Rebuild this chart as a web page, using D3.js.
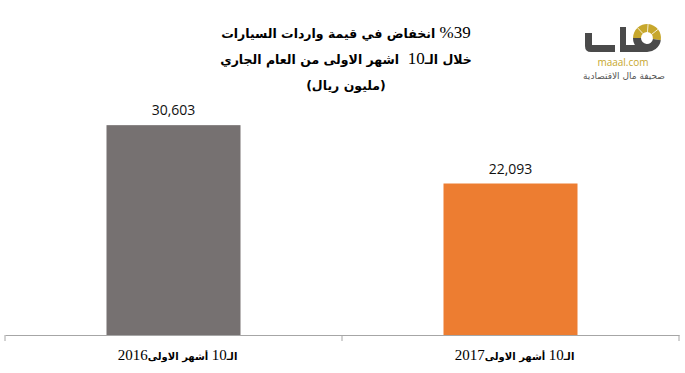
<!DOCTYPE html>
<html>
<head>
<meta charset="utf-8">
<script src="https://cdn.jsdelivr.net/npm/d3@7"></script>
<style>
  body { margin: 0; background: #fff; }
  svg { display: block; }
</style>
</head>
<body>
<svg id="vis" width="685" height="373"></svg>
<script>
// chart data
const categories = ["2016", "2017"];
const values = [30603, 22093];
const barColors = ["#767171", "#ED7D31"];
// title pieces in reading (logical) order
const titleLines = [
    ["%39", " انخفاض في قيمة واردات السيارات"],
    ["خلال الـ", "10", "  اشهر الاولى من العام الجاري"],
    ["(مليون ريال)"]
];
const catParts = ["الـ", "10", " أشهر الاولى", null]; // null -> year

const svg = d3.select('#vis');
const arabicFont = "'DejaVu Sans', sans-serif";
const serifFont = "'Liberation Serif', serif";

const x = d3.scaleBand()
    .domain(categories)
    .range([5, 679]);

const y = d3.scaleLinear()
    .domain([0, 35000])
    .range([335, 95]);

// one right-to-left text line made of arabic and number pieces
function rtlLine(parent, parts, cx, baseline, arSize, numSize) {
    const t = parent.append("text")
        .attr("x", cx)
        .attr("y", baseline)
        .attr("direction", "rtl")
        .attr("text-anchor", "middle")
        .attr("fill", "#000")
        .style("white-space", "pre");
    parts.forEach(function (p) {
        const isNum = /^[%0-9]+$/.test(p);
        const s = t.append("tspan")
            .attr("font-family", isNum ? serifFont : arabicFont)
            .attr("font-weight", isNum ? "normal" : "bold")
            .attr("font-size", isNum ? numSize : arSize)
            .text(p);
        if (p.indexOf("%") >= 0) {
            // percent sign drawn before the digits
            s.attr("direction", "ltr").attr("unicode-bidi", "bidi-override");
        }
    });
    return t;
}

// bars
const barW = 134;
svg.selectAll(".bar")
    .data(values)
    .enter().append("rect")
    .attr("class", "bar")
    .attr("x", function (d, i) { return x(categories[i]) + x.bandwidth() / 2 - barW / 2; })
    .attr("y", function (d) { return y(d); })
    .attr("width", barW)
    .attr("height", function (d) { return y(0) - y(d); })
    .attr("fill", function (d, i) { return barColors[i]; });

// value labels
svg.selectAll(".val")
    .data(values)
    .enter().append("text")
    .attr("class", "val")
    .attr("x", function (d, i) { return x(categories[i]) + x.bandwidth() / 2; })
    .attr("y", function (d) { return y(d) - 10; })
    .attr("text-anchor", "middle")
    .attr("font-family", "'Open Sans', sans-serif")
    .attr("font-size", 14)
    .attr("fill", "#111")
    .text(d3.format(","));

// axis line with ticks
const axis = d3.axisBottom(x).tickSize(0).tickFormat("");
const gx = svg.append("g")
    .attr("transform", "translate(0," + y(0) + ")")
    .call(axis);
gx.select(".domain").attr("stroke", "#a6a6a6");
const edges = [x.range()[0], x(categories[1]), x.range()[1]];
gx.selectAll(".edge")
    .data(edges)
    .enter().append("line")
    .attr("x1", function (d) { return d; })
    .attr("x2", function (d) { return d; })
    .attr("y1", 0)
    .attr("y2", 6)
    .attr("stroke", "#a6a6a6");

// category labels
categories.forEach(function (c) {
    const parts = catParts.map(function (p) { return p === null ? c : p; });
    rtlLine(svg, parts, x(c) + x.bandwidth() / 2 + 4, 360, 10, 15);
});

// title
const titleY = [38, 64, 90];
titleLines.forEach(function (parts, i) {
    rtlLine(svg, parts, 346, titleY[i], 12.5, 17);
});

// logo
const logo = svg.append("g").attr("transform", "translate(585,27)");
const dark = "#4a4a4a";
const gold = "#c7a72c";
logo.append("path")
    .attr("d", "M0,6 H7 V18 H30 V25 H6 Q0,25 0,19 Z")
    .attr("fill", dark);
logo.append("rect")
    .attr("x", 35).attr("y", 0).attr("width", 6).attr("height", 25)
    .attr("fill", dark);
const arc = d3.arc();
const goldStart = -Math.PI * 0.5, goldEnd = Math.PI * 0.55;
logo.append("path")
    .attr("transform", "translate(62,11)")
    .attr("d", arc({innerRadius: 6, outerRadius: 14, startAngle: goldStart, endAngle: goldEnd}))
    .attr("fill", gold);
logo.append("path")
    .attr("transform", "translate(62,11)")
    .attr("d", arc({innerRadius: 6, outerRadius: 14, startAngle: goldEnd, endAngle: Math.PI * 1.5}))
    .attr("fill", dark);
// thin white cuts in the gold ring
[0.25, 0.5, 0.75].forEach(function (f) {
    const a = goldStart + (goldEnd - goldStart) * f;
    logo.append("line")
        .attr("transform", "translate(62,11)")
        .attr("x1", Math.sin(a) * 6).attr("y1", -Math.cos(a) * 6)
        .attr("x2", Math.sin(a) * 14).attr("y2", -Math.cos(a) * 14)
        .attr("stroke", "#fff").attr("stroke-width", 0.8);
});
logo.append("rect")
    .attr("x", 41).attr("y", 18).attr("width", 21).attr("height", 7)
    .attr("fill", dark);
logo.append("text")
    .attr("x", 38).attr("y", 39)
    .attr("text-anchor", "middle")
    .attr("font-family", "'Open Sans', sans-serif")
    .attr("font-size", 10)
    .attr("fill", gold)
    .text("maaal.com");
logo.append("text")
    .attr("x", 39).attr("y", 52)
    .attr("text-anchor", "middle")
    .attr("font-family", arabicFont)
    .attr("font-size", 9)
    .attr("fill", "#555")
    .text("صحيفة مال الاقتصادية");
</script>
</body>
</html>
